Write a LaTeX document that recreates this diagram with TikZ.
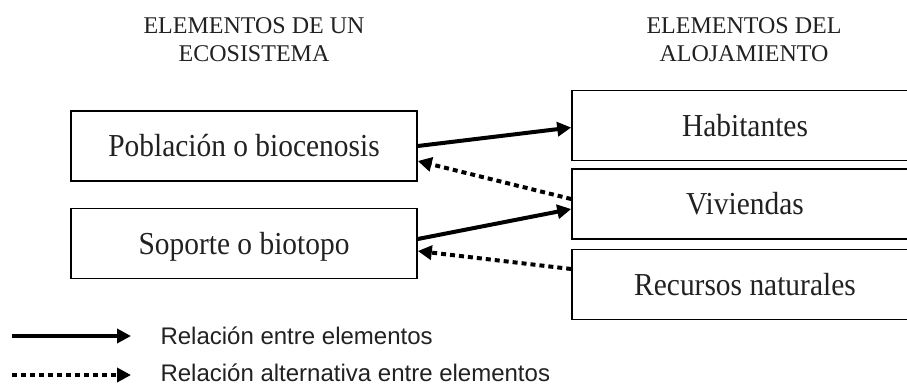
\documentclass[tikz,border=0pt]{standalone}
\usepackage{fontspec}
\setmainfont{Liberation Serif}
\newfontfamily\legendfont{Liberation Sans}
\newfontfamily\boxfont[FakeStretch=0.92]{Liberation Serif}
\usetikzlibrary{arrows.meta}
\definecolor{txtgray}{rgb}{0.13,0.13,0.13}

\begin{document}
\begin{tikzpicture}[x=1pt, y=-1pt,
	box/.style={draw, line width=1.6pt, minimum width=346pt, minimum height=70pt, inner sep=0pt, text height=21pt, text depth=0pt, text=txtgray, font=\boxfont\fontsize{32}{34}\selectfont},
	head/.style={align=center, text=txtgray, font=\fontsize{24}{28}\selectfont},
	legtext/.style={anchor=base west, text=txtgray, font=\legendfont\fontsize{24}{28}\selectfont},
	rel/.style={line width=4pt, -{Triangle[length=14pt, width=14pt]}},
	altrel/.style={line width=4pt, dash pattern=on 5pt off 4pt, -{Triangle[length=14pt, width=14pt]}}]
	\useasboundingbox (0,0) rectangle (907,386);
	\node[head] (hecos) at (254,40) {ELEMENTOS DE UN\\ECOSISTEMA};
	\node[head] (haloj) at (744,40) {ELEMENTOS DEL\\ALOJAMIENTO};
	\node[box] (pob) at (244,146) {Población o biocenosis};
	\node[box] (sop) at (244,243.5) {Soporte o biotopo};
	\node[box] (hab) at (745,125.5) {Habitantes};
	\node[box] (viv) at (745,204) {Viviendas};
	\node[box] (rec) at (745,284.5) {Recursos naturales};
	\draw[rel] (pob.east) -- ([yshift=-2pt]hab.west);
	\draw[altrel] ([yshift=5pt]viv.west) -- ([yshift=-15pt]pob.east);
	\draw[rel] ([yshift=4.5pt]sop.east) -- ([yshift=-5pt]viv.west);
	\draw[altrel] ([yshift=15.5pt]rec.west) -- ([yshift=-7.5pt]sop.east);
	% legend
	\coordinate (la) at (12,336);
	\coordinate (lb) at (131,336);
	\coordinate (lc) at (12,375);
	\coordinate (ld) at (131,375);
	\draw[rel] (la) -- (lb);
	\draw[altrel] (lc) -- (ld);
	\node[legtext] (lrel) at (157,344) {Relación entre elementos};
	\node[legtext] (lalt) at (157,381) {Relación alternativa entre elementos};
\end{tikzpicture}
\end{document}
